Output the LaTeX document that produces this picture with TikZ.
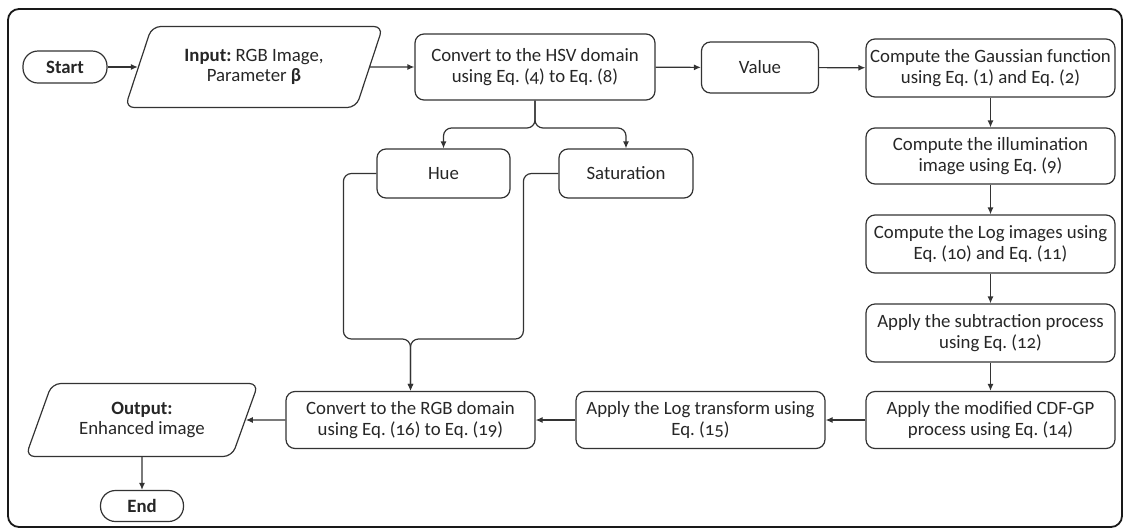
\documentclass[tikz,border=0pt]{standalone}
\usepackage{fontspec}
\setmainfont{Carlito}[Numbers=OldStyle]
\usetikzlibrary{shapes.geometric,arrows.meta}
\frenchspacing

\begin{document}
\begin{tikzpicture}[x=1pt,y=-1pt,
	font=\fontsize{18.8}{20.5}\selectfont, text=black!85,
	box/.style={draw=black!80, line width=1.2pt, rounded corners=9pt, align=center, inner sep=1pt},
	term/.style={box, rounded corners=15pt, font=\fontsize{18.8}{20.5}\selectfont\bfseries},
	io/.style={draw=black!80, line width=1.2pt, rounded corners=9pt, align=center,
		trapezium, trapezium left angle=64, trapezium right angle=116, trapezium stretches=true, inner sep=1pt},
	line/.style={draw=black!80, line width=1.2pt},
	arrow/.style={line, -{Latex[length=7pt,width=6pt]}}]
	
	\useasboundingbox (0,0) rectangle (1125,531);
	
	% frame
	\draw[black!90, line width=1.8pt, rounded corners=11pt] (8,9) rectangle (1122,527);
	
	% top row
	\node[term, minimum width=84, minimum height=32] (start) at (65,67) {Start};
	\node[io, minimum width=258, minimum height=81] (input) at (254,67) {\textbf{Input:} RGB Image,\\ Parameter \textbf{β}};
	\node[box, minimum width=240, minimum height=66] (hsv) at (535,67) {Convert to the HSV domain\\ using Eq. (4) to Eq. (8)};
	\node[box, minimum width=117, minimum height=51] (value) at (760,67.5) {Value};
	\node[box, minimum width=249, minimum height=58] (gauss) at (990.5,68) {Compute the Gaussian function\\ using Eq. (1) and Eq. (2)};
	
	% right column
	\node[box, minimum width=249, minimum height=56] (illum) at (990.5,156) {Compute the illumination\\ image using Eq. (9)};
	\node[box, minimum width=249, minimum height=58] (logimg) at (990.5,244) {Compute the Log images using\\ Eq. (10) and Eq. (11)};
	\node[box, minimum width=249, minimum height=58] (subtr) at (990.5,333) {Apply the subtraction process\\ using Eq. (12)};
	\node[box, minimum width=249, minimum height=57] (cdf) at (990.5,420) {Apply the modified CDF-GP\\ process using Eq. (14)};
	
	% bottom row
	\node[box, minimum width=249, minimum height=57] (logtr) at (700.5,420) {Apply the Log transform using\\ Eq. (15)};
	\node[box, minimum width=249, minimum height=57] (rgb) at (410.5,420) {Convert to the RGB domain\\ using Eq. (16) to Eq. (19)};
	\node[io, minimum width=233, minimum height=73] (output) at (142,420) {\textbf{Output:}\\ Enhanced image};
	\node[term, minimum width=83, minimum height=31] (end) at (142,506) {End};
	
	% hue and saturation
	\node[box, minimum width=133, minimum height=49] (hue) at (443.5,173.5) {Hue};
	\node[box, minimum width=134, minimum height=49] (sat) at (626,173.5) {Saturation};
	\coordinate (fork) at (535,128);
	\coordinate (merge) at (410.5,339);
	
	% arrows
	\draw[arrow] (start) -- (input);
	\draw[arrow] (input) -- (hsv);
	\draw[arrow] (hsv) -- (value);
	\draw[arrow] (value) -- (gauss);
	\draw[arrow] (gauss) -- (illum);
	\draw[arrow] (illum) -- (logimg);
	\draw[arrow] (logimg) -- (subtr);
	\draw[arrow] (subtr) -- (cdf);
	\draw[arrow] (cdf) -- (logtr);
	\draw[arrow] (logtr) -- (rgb);
	\draw[arrow] (rgb) -- (output);
	\draw[arrow] (output) -- (end);
	
	\draw[arrow, rounded corners=8pt] (hsv.south) -- (fork) -| (hue.north);
	\draw[arrow, rounded corners=8pt] (hsv.south) -- (fork) -| (sat.north);
	
	\draw[arrow, rounded corners=8pt] (hue.west) -- ++(-33,0) |- (merge) -- (rgb.north);
	\draw[arrow, rounded corners=8pt] (sat.west) -- ++(-35,0) |- (merge) -- (rgb.north);
	
\end{tikzpicture}
\end{document}
